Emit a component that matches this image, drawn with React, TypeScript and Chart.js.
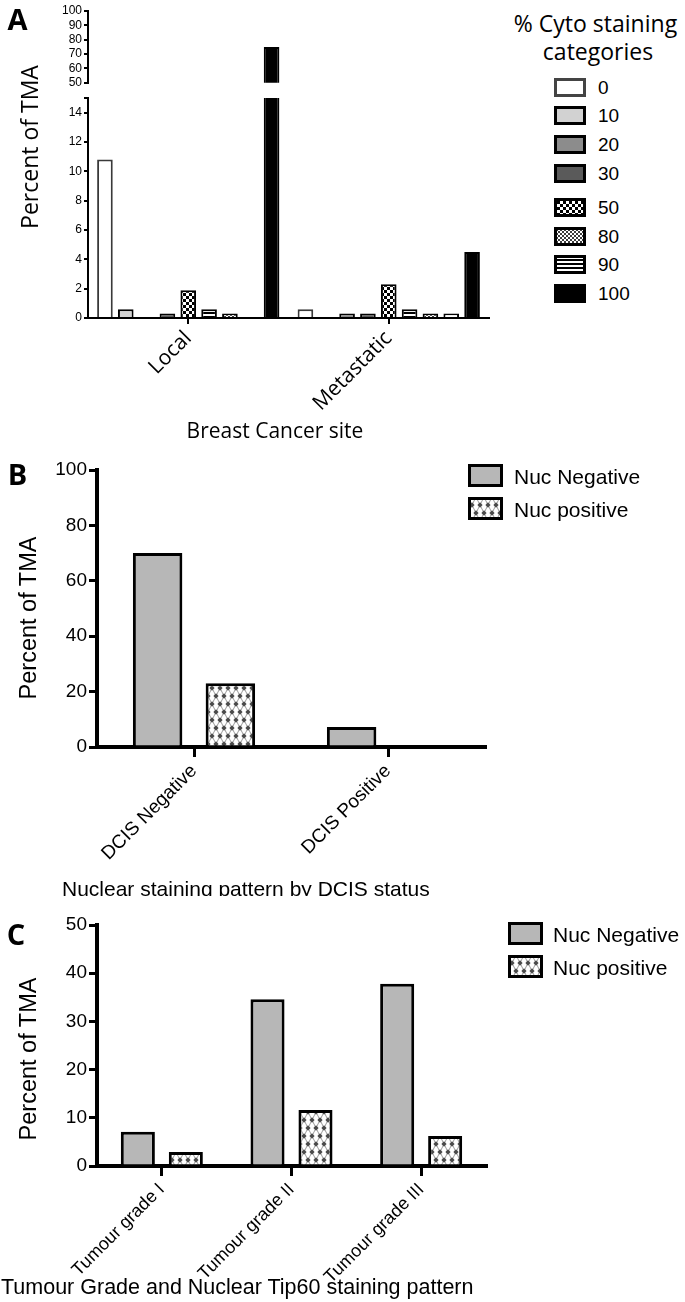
import React, { useEffect, useRef } from "react";
import { Chart, registerables } from "chart.js";

Chart.register(...registerables);

// ===== Panel A data =====
const siteCategories = ["Local", "Metastatic"];
const cytoSeriesLabels = ["0", "10", "20", "30", "50", "90", "80", "other", "100"];
const localPercent = [10.8, 0.6, 0, 0.3, 1.9, 0.6, 0.3, 0, 75];
const metastaticPercent = [0.6, 0, 0.3, 0.3, 2.3, 0.6, 0.3, 0.3, 4.5];
const cytoLegendTitle = ["% Cyto staining", "categories"];
const cytoLegendLabels = ["0", "10", "20", "30", "50", "80", "90", "100"];
const upperTicksA = [50, 60, 70, 80, 90, 100];
const lowerTicksA = [0, 2, 4, 6, 8, 10, 12, 14, 15];
const lowerLabelledMaxA = 14;

// ===== Panel B data =====
const dcisCategories = ["DCIS Negative", "DCIS Positive"];
const nucNegativeByDcis = [70, 7.2];
const nucPositiveByDcis = [23, 0];
const dcisTicks = [0, 20, 40, 60, 80, 100];

// ===== Panel C data =====
const gradeCategories = ["Tumour grade I", "Tumour grade II", "Tumour grade III"];
const nucNegativeByGrade = [7.1, 34.6, 37.8];
const nucPositiveByGrade = [2.9, 11.6, 6.2];
const gradeTicks = [0, 10, 20, 30, 40, 50];

const nucLegendLabels = ["Nuc Negative", "Nuc positive"];

const yTitle = "Percent of TMA";
const titleA = "Breast Cancer site";
const titleB = "Nuclear staining pattern by DCIS status";
const titleC = "Tumour Grade and Nuclear Tip60 staining pattern";

// ===== styles =====
const SANS = "'Liberation Sans', Arial, sans-serif";
const HUMANIST = "'Open Sans', 'Liberation Sans', sans-serif";

const cytoSeriesKinds = ["white", "light", "mid", "dark", "checker", "hlines", "stipple", "wavy", "black"];
const cytoLegendKinds = ["white", "light", "mid", "dark", "checker", "stipple", "hlines", "black"];
const nucKinds = ["gray", "diamond"];

const SOLID: Record<string, string> = {
  white: "#ffffff",
  light: "#d2d2d2",
  mid: "#8c8c8c",
  dark: "#5a5a5a",
  black: "#000000",
  gray: "#b7b7b7",
};

function makeFill(ctx: CanvasRenderingContext2D, kind: string): string | CanvasPattern {
  if (SOLID[kind]) return SOLID[kind];
  const tile = document.createElement("canvas");
  const g = tile.getContext("2d")!;
  if (kind === "checker") {
    tile.width = 6; tile.height = 6;
    g.fillStyle = "#fff"; g.fillRect(0, 0, 6, 6);
    g.fillStyle = "#000"; g.fillRect(0, 0, 3, 3); g.fillRect(3, 3, 3, 3);
  } else if (kind === "stipple") {
    tile.width = 4; tile.height = 4;
    g.fillStyle = "#fff"; g.fillRect(0, 0, 4, 4);
    g.fillStyle = "#3c3c3c"; g.fillRect(0, 0, 2, 2); g.fillRect(2, 2, 2, 2);
  } else if (kind === "hlines") {
    tile.width = 4; tile.height = 4;
    g.fillStyle = "#fff"; g.fillRect(0, 0, 4, 4);
    g.fillStyle = "#000"; g.fillRect(0, 0, 4, 2);
  } else if (kind === "wavy") {
    tile.width = 6; tile.height = 4;
    g.fillStyle = "#fff"; g.fillRect(0, 0, 6, 4);
    g.strokeStyle = "#555"; g.lineWidth = 1;
    g.beginPath(); g.moveTo(0, 3); g.lineTo(1.5, 1); g.lineTo(3, 3); g.lineTo(4.5, 1); g.lineTo(6, 3); g.stroke();
  } else {
    tile.width = 8; tile.height = 16;
    g.fillStyle = "#fff"; g.fillRect(0, 0, 8, 16);
    g.strokeStyle = "#9a9a9a"; g.lineWidth = 1;
    g.beginPath();
    g.moveTo(0, 0); g.lineTo(4, 8); g.lineTo(8, 0);
    g.moveTo(0, 16); g.lineTo(4, 8); g.lineTo(8, 16);
    g.stroke();
    g.fillStyle = "#4a4a4a";
    const dots = [[0, 0], [8, 0], [0, 16], [8, 16], [4, 8]];
    for (const [cx, cy] of dots) {
      g.beginPath();
      g.moveTo(cx, cy - 2.8); g.lineTo(cx + 2.6, cy); g.lineTo(cx, cy + 2.8); g.lineTo(cx - 2.6, cy);
      g.closePath(); g.fill();
    }
  }
  return ctx.createPattern(tile, "repeat")!;
}

type Area = { left: number; top: number; right: number; bottom: number };

function barConfig(p: {
  W: number; H: number; area: Area; labels: string[]; datasets: any[]; showX: boolean;
  yMin: number; yMax: number; yTicks: number[]; yLabelMax?: number;
  yFont: any; xFont: any; axisWidth: number; tickWidth: number; yTickLen: number; xTickLen: number; yPad: number; xPad: number;
}) {
  const { W, H, area } = p;
  const xScale: any = {
    display: p.showX,
    offset: true,
    grid: { display: true, drawOnChartArea: false, offset: false, drawTicks: true, tickLength: p.xTickLen, lineWidth: p.tickWidth, tickWidth: p.tickWidth, tickColor: "#000", color: "#000" },
    border: { display: true, color: "#000", width: p.axisWidth },
    ticks: { autoSkip: false, maxRotation: 45, minRotation: 45, font: p.xFont, color: "#000", padding: p.xPad },
  };
  if (p.showX) xScale.afterFit = (s: any) => { s.height = H - area.bottom; };
  return {
    type: "bar",
    data: { labels: p.labels, datasets: p.datasets },
    options: {
      responsive: false,
      animation: false,
      events: [],
      layout: { padding: { left: 0, top: area.top, right: W - area.right, bottom: p.showX ? 0 : H - area.bottom } },
      plugins: { legend: { display: false }, tooltip: { enabled: false }, title: { display: false } },
      scales: {
        x: xScale,
        y: {
          min: p.yMin,
          max: p.yMax,
          afterBuildTicks: (s: any) => { s.ticks = p.yTicks.map((v) => ({ value: v })); },
          grid: { display: true, drawOnChartArea: false, drawTicks: true, tickLength: p.yTickLen, lineWidth: p.tickWidth, tickWidth: p.tickWidth, tickColor: "#000", color: "#000" },
          border: { display: true, color: "#000", width: p.axisWidth },
          ticks: {
            autoSkip: false,
            font: p.yFont,
            color: "#000",
            padding: p.yPad,
            callback: (v: number) => (p.yLabelMax !== undefined && v > p.yLabelMax ? "" : String(v)),
          },
          afterFit: (s: any) => { s.width = area.left; },
        },
      },
    },
  };
}

const hideZero = (v: number) => (v === 0 ? null : v);

function cytoConfig(ctx: CanvasRenderingContext2D, upper: boolean, W: number, H: number, area: Area) {
  const datasets = cytoSeriesLabels.map((label, i) => {
    const raw = [localPercent[i], metastaticPercent[i]];
    const data = raw.map((v) => (upper ? (v >= upperTicksA[0] ? v : null) : hideZero(v)));
    return {
      label,
      data,
      backgroundColor: makeFill(ctx, cytoSeriesKinds[i]),
      borderColor: i === 0 ? "#3a3a3a" : "#000",
      borderWidth: 2,
      barPercentage: 0.75,
      categoryPercentage: 0.935,
      clip: 0,
    };
  });
  return barConfig({
    W, H, area, labels: siteCategories, datasets, showX: !upper,
    yMin: upper ? upperTicksA[0] : lowerTicksA[0],
    yMax: upper ? upperTicksA[upperTicksA.length - 1] : lowerTicksA[lowerTicksA.length - 1],
    yTicks: upper ? upperTicksA : lowerTicksA,
    yLabelMax: upper ? undefined : lowerLabelledMaxA,
    yFont: { family: SANS, size: 12 },
    xFont: { family: HUMANIST, size: 21 },
    axisWidth: 2, tickWidth: 2, yTickLen: 4, xTickLen: 6, yPad: 2, xPad: 2,
  });
}

function nucConfig(ctx: CanvasRenderingContext2D, W: number, H: number, area: Area, labels: string[], neg: number[], pos: number[], ticks: number[], catPct: number, barPct: number, xSize: number) {
  const series = [neg, pos];
  const datasets = series.map((vals, i) => ({
    label: nucLegendLabels[i],
    data: vals.map(hideZero),
    backgroundColor: makeFill(ctx, nucKinds[i]),
    borderColor: "#000",
    borderWidth: 3,
    barPercentage: barPct,
    categoryPercentage: catPct,
    clip: 0,
  }));
  return barConfig({
    W, H, area, labels, datasets, showX: true,
    yMin: ticks[0], yMax: ticks[ticks.length - 1], yTicks: ticks,
    yFont: { family: SANS, size: 19 },
    xFont: { family: SANS, size: xSize },
    axisWidth: 4, tickWidth: 3, yTickLen: 8, xTickLen: 10, yPad: 2, xPad: 3,
  });
}

function ChartCanvas(props: { left: number; top: number; width: number; height: number; build: (ctx: CanvasRenderingContext2D) => any }) {
  const ref = useRef<HTMLCanvasElement | null>(null);
  useEffect(() => {
    const canvas = ref.current;
    if (!canvas) return;
    const ctx = canvas.getContext("2d")!;
    const chart = new Chart(canvas, props.build(ctx));
    return () => chart.destroy();
  }, []);
  return (
    <canvas
      ref={ref}
      width={props.width}
      height={props.height}
      style={{ position: "absolute", left: props.left, top: props.top, width: props.width, height: props.height }}
    />
  );
}

function Swatch(props: { x: number; y: number; w: number; h: number; kind: string; border: number; borderColor: string }) {
  const ref = useRef<HTMLCanvasElement | null>(null);
  useEffect(() => {
    const c = ref.current;
    if (!c) return;
    const ctx = c.getContext("2d")!;
    ctx.clearRect(0, 0, props.w, props.h);
    ctx.fillStyle = makeFill(ctx, props.kind);
    ctx.fillRect(0, 0, props.w, props.h);
    ctx.lineWidth = props.border;
    ctx.strokeStyle = props.borderColor;
    ctx.strokeRect(props.border / 2, props.border / 2, props.w - props.border, props.h - props.border);
  }, []);
  return <canvas ref={ref} width={props.w} height={props.h} style={{ position: "absolute", left: props.x, top: props.y }} />;
}

function Label(props: { x: number; y: number; text: string; family: string; size: number; weight?: number; align?: "left" | "center" | "right"; rotate?: boolean }) {
  const align = props.align || "center";
  const tx = align === "center" ? "-50%" : align === "right" ? "-100%" : "0";
  const transform = props.rotate ? "translate(-50%, -50%) rotate(-90deg)" : `translate(${tx}, -50%)`;
  return (
    <div
      style={{
        position: "absolute",
        left: props.x,
        top: props.y,
        transform,
        whiteSpace: "nowrap",
        fontFamily: props.family,
        fontSize: props.size,
        fontWeight: props.weight || 400,
        lineHeight: 1,
        color: "#000",
      }}
    >
      {props.text}
    </div>
  );
}

const cytoLegendRows = [87, 115, 144, 173, 207, 236, 264, 293];

export default function App() {
  const cTop = 896;
  return (
    <div style={{ position: "absolute", left: 0, top: 0, width: 685, height: 1302, background: "#fff", overflow: "hidden" }}>
      {/* ---------- Panel A ---------- */}
      <ChartCanvas left={0} top={0} width={500} height={92}
        build={(ctx) => cytoConfig(ctx, true, 500, 92, { left: 88, top: 11, right: 489, bottom: 84 })} />
      <ChartCanvas left={0} top={80} width={500} height={350}
        build={(ctx) => cytoConfig(ctx, false, 500, 350, { left: 88, top: 18, right: 489, bottom: 238 })} />
      <Label x={17.5} y={17.5} text="A" family={HUMANIST} size={29} weight={700} />
      <Label x={29} y={147} text={yTitle} family={HUMANIST} size={23} rotate />
      <Label x={275} y={429.5} text={titleA} family={HUMANIST} size={21} />
      <Label x={595.5} y={22.5} text={cytoLegendTitle[0]} family={HUMANIST} size={23} />
      <Label x={598} y={50.5} text={cytoLegendTitle[1]} family={HUMANIST} size={23} />
      {cytoLegendLabels.map((lab, i) => (
        <React.Fragment key={"la" + i}>
          <Swatch x={554} y={cytoLegendRows[i] - 9.5} w={32} h={19} kind={cytoLegendKinds[i]} border={3} borderColor={i === 0 ? "#444" : "#000"} />
          <Label x={598} y={cytoLegendRows[i]} text={lab} family={SANS} size={19} align="left" />
        </React.Fragment>
      ))}

      {/* ---------- Panel B ---------- */}
      <ChartCanvas left={0} top={440} width={500} height={440}
        build={(ctx) => nucConfig(ctx, 500, 440, { left: 97, top: 30, right: 485, bottom: 307 }, dcisCategories, nucNegativeByDcis, nucPositiveByDcis, dcisTicks, 0.75, 0.68, 19)} />
      <Label x={17.5} y={472.5} text="B" family={HUMANIST} size={29} weight={700} />
      <Label x={29} y={618} text={yTitle} family={SANS} size={23.5} rotate />
      <Label x={62} y={887.5} text={titleB} family={SANS} size={21} align="left" />
      {nucLegendLabels.map((lab, i) => (
        <React.Fragment key={"lb" + i}>
          <Swatch x={468} y={464 + i * 33} w={35} h={23} kind={nucKinds[i]} border={3} borderColor="#000" />
          <Label x={514} y={475.5 + i * 33} text={lab} family={SANS} size={21} align="left" />
        </React.Fragment>
      ))}

      {/* ---------- Panel C ---------- */}
      <div style={{ position: "absolute", left: 0, top: cTop, width: 685, height: 1302 - cTop, background: "#fff", overflow: "hidden" }}>
        <ChartCanvas left={0} top={0} width={500} height={1302 - cTop}
          build={(ctx) => nucConfig(ctx, 500, 1302 - cTop, { left: 97, top: 925 - cTop, right: 486, bottom: 1166 - cTop }, gradeCategories, nucNegativeByGrade, nucPositiveByGrade, gradeTicks, 0.74, 0.71, 18)} />
        <Label x={16} y={932.5 - cTop} text="C" family={HUMANIST} size={29} weight={700} />
        <Label x={28.5} y={1059 - cTop} text={yTitle} family={SANS} size={23.5} rotate />
        <Label x={1} y={1287.5 - cTop} text={titleC} family={SANS} size={21.5} align="left" />
        {nucLegendLabels.map((lab, i) => (
          <React.Fragment key={"lc" + i}>
            <Swatch x={508} y={922 - cTop + i * 33} w={35} h={23} kind={nucKinds[i]} border={3} borderColor="#000" />
            <Label x={553} y={934 - cTop + i * 33} text={lab} family={SANS} size={21} align="left" />
          </React.Fragment>
        ))}
      </div>
    </div>
  );
}
